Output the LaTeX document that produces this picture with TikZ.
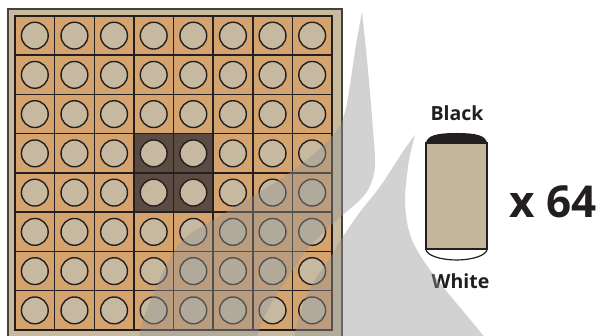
\documentclass[tikz,border=0pt]{standalone}
\usepackage{fontspec}
\setmainfont{Open Sans}
\definecolor{framecol}{RGB}{201,186,158}
\definecolor{cellcol}{RGB}{212,163,110}
\definecolor{darkcell}{RGB}{91,75,67}
\definecolor{disccol}{RGB}{198,185,159}
\definecolor{inkcol}{RGB}{35,31,32}
\definecolor{piecebody}{RGB}{196,182,155}
\definecolor{swooshcol}{RGB}{150,150,150}
\tikzset{
  boardframe/.style={fill=framecol, draw=inkcol!85, line width=1.4pt},
  cellbox/.style={fill=cellcol, draw=inkcol, line width=1.5pt},
  darkbox/.style={fill=darkcell, draw=inkcol, line width=1.5pt},
  disc/.style={fill=disccol, draw=inkcol, line width=1.4pt},
  swoosh/.style={fill=swooshcol, fill opacity=0.42},
  piecebox/.style={fill=piecebody, draw=inkcol, line width=2pt},
  label/.style={font=\fontsize{19.5}{22}\selectfont\bfseries, text=inkcol, inner sep=0pt, anchor=base},
}
\begin{document}
\begin{tikzpicture}[x=1pt,y=-1pt]
\useasboundingbox (0,0) rectangle (600,336);
\clip (0,0) rectangle (600,336);
\fill[white] (0,0) rectangle (600,336);
% board
\draw[boardframe] (8,9) rectangle (342,350);
\foreach \i in {0,...,7}{
  \foreach \j in {0,...,7}{
    \draw[cellbox] (15+\i*39.625, 16+\j*39.25) rectangle ++(39.625,39.25);
  }
}
\foreach \i in {3,4}{
  \foreach \j in {3,4}{
    \draw[darkbox] (15+\i*39.625, 16+\j*39.25) rectangle ++(39.625,39.25);
  }
}
\foreach \i in {0,...,7}{
  \foreach \j in {0,...,7}{
    \draw[disc] (34.81+\i*39.625, 35.63+\j*39.25) circle[radius=13.4];
  }
}
% piece
\draw[piecebox] (426,143) rectangle (487,249);
\fill[inkcol] (426,144) .. controls (426,135.5) and (437,133) .. (456.5,133)
  .. controls (476,133) and (487,135.5) .. (487,144) -- cycle;
\draw[fill=white, draw=inkcol, line width=1.2pt] (426,249) .. controls (426,255.5) and (441,260) .. (456.5,260)
  .. controls (472,260) and (487,255.5) .. (487,249);
\draw[inkcol, line width=2.6pt] (426,249) -- (487,249);
% labels
\node[label] (black) at (457,121) {Black};
\node[label] (white) at (460.5,289) {White};
\node[label, font=\fontsize{44}{48}\selectfont\bfseries] (count) at (553.5,218) {x 64};
% swooshes
\fill[swoosh] plot[smooth, tension=0.6] coordinates {(362,12) (356,45) (350,85) (345,112) (337,130) (315,153) (285,176) (250,198) (213,220) (185,238) (168,262) (155,290) (143,320) (138,342)}
  -- plot[smooth, tension=0.6] coordinates {(255,342) (263,320) (272,302) (285,282) (305,252) (330,226) (345,213) (360,200) (370,186) (375,165) (373,130) (368,70) (362,12)} -- cycle;
\fill[swoosh] plot[smooth, tension=0.6] coordinates {(415,135) (404,150) (393,167) (379,188) (360,212) (342,238) (330,258) (315,280) (301,310) (293,342)}
  -- plot[smooth, tension=0.5] coordinates {(487,340) (463,311) (443,287) (423,260) (412,240) (407,222) (405,197) (409,160) (415,135)} -- cycle;
\end{tikzpicture}
\end{document}
